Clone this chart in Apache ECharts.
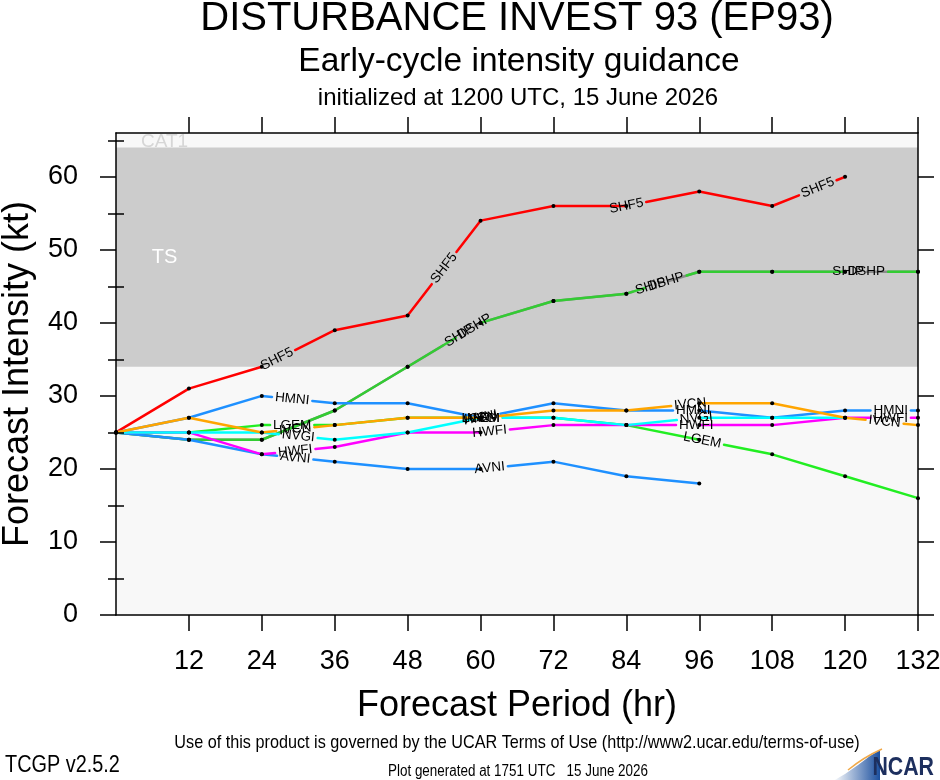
<!DOCTYPE html>
<html><head><meta charset="utf-8">
<script src="https://cdn.jsdelivr.net/npm/echarts@6/dist/echarts.min.js"></script>
<style>html,body{margin:0;padding:0;background:#fff}#c{width:940px;height:780px}</style>
</head><body><div id="c"></div>
<script>
// ---- data ----
const hours = [0, 12, 24, 36, 48, 60, 72, 84, 96, 108, 120, 132];
const SHF5 = [25, 31, 34, 39, 41, 54, 56, 56, 58, 56, 60, null];
const SHIP = [25, 24, 24, 28, 34, 40, 43, 44, 47, 47, 47, 47];
const DSHP = [25, 24, 24, 28, 34, 40, 43, 44, 47, 47, 47, 47];
const LGEM = [25, 25, 26, 26, 27, 27, 27, 26, 24, 22, 19, 16];
const HMNI = [25, 27, 30, 29, 29, 27, 29, 28, 28, 27, 28, 28];
const AVNI = [25, 24, 22, 21, 20, 20, 21, 19, 18, null, null, null];
const HWFI = [25, 25, 22, 23, 25, 25, 26, 26, 26, 26, 27, 27];
const NVGI = [25, 25, 25, 24, 25, 27, 27, 26, 27, 27, 27, null];
const IVCN = [25, 27, 25, 26, 27, 27, 28, 28, 29, 29, 27, 26];
const xTicks = [12, 24, 36, 48, 60, 72, 84, 96, 108, 120, 132];
const yMajor = [0, 10, 20, 30, 40, 50, 60];
const yMinor = [5, 15, 25, 35, 45, 55, 65];
const tsBand = [34, 64];

const FONT = '"Liberation Sans", Arial, Helvetica, sans-serif';
const LABEL_FONT = '13.5px "Liberation Sans", Arial, sans-serif';

// model styling and label anchor hours
const models = [
  { name: 'SHF5', vals: SHF5, color: '#ff0000', labels: [26.5, 54, 84, 115.5] },
  { name: 'SHIP', vals: SHIP, color: '#8a8a8a', labels: [56.5, 88, 120.5] },
  { name: 'DSHP', vals: DSHP, color: '#33cc33', labels: [59, 90.5, 123.5] },
  { name: 'LGEM', vals: LGEM, color: '#22ee22', labels: [29, 60, 96.5] },
  { name: 'HMNI', vals: HMNI, color: '#1e90ff', labels: [29, 60, 95, 127.5] },
  { name: 'AVNI', vals: AVNI, color: '#1e90ff', labels: [29.5, 61.5] },
  { name: 'HWFI', vals: HWFI, color: '#ff00ff', labels: [29.5, 61.5, 95.5, 127.5] },
  { name: 'NVGI', vals: NVGI, color: '#00ffff', labels: [30, 60.5, 95.5] },
  { name: 'IVCN', vals: IVCN, color: '#ffa500', labels: [29.5, 60, 94.5, 126.5] }
];

const mctx = document.createElement('canvas').getContext('2d');
mctx.font = LABEL_FONT;
function textW(s) { return mctx.measureText(s).width; }

function makeRender(m, pts) {
  return function (params, api) {
    const i = params.dataIndex;
    const A = api.coord(pts[i]);
    const children = [];
    if (i < pts.length - 1) {
      const B = api.coord(pts[i + 1]);
      const dx = B[0] - A[0], dy = B[1] - A[1];
      const L = Math.hypot(dx, dy);
      const h0 = pts[i][0], h1 = pts[i + 1][0];
      const labs = m.labels.filter(h => h >= h0 && h < h1);
      const hw = (textW(m.name) / 2 + 3) / L;
      const cuts = labs.map(h => { const t = (h - h0) / (h1 - h0); return [t - hw, t + hw]; })
        .sort((a, b) => a[0] - b[0]);
      let s = 0; const segs = [];
      cuts.forEach(c => { if (c[0] > s) segs.push([s, Math.min(c[0], 1)]); s = Math.max(s, c[1]); });
      if (s < 1) segs.push([s, 1]);
      segs.forEach(sg => children.push({
        type: 'line',
        shape: { x1: A[0] + dx * sg[0], y1: A[1] + dy * sg[0], x2: A[0] + dx * sg[1], y2: A[1] + dy * sg[1] },
        style: { stroke: m.color, lineWidth: 2.5, lineCap: 'round' }
      }));
      labs.forEach(h => {
        const t = (h - h0) / (h1 - h0);
        const v = pts[i][1] + t * (pts[i + 1][1] - pts[i][1]);
        const C = api.coord([h, v]);
        children.push({
          type: 'text', x: C[0], y: C[1], rotation: Math.atan2(-dy, dx), z2: 5,
          style: { text: m.name, font: LABEL_FONT, fill: '#000', align: 'center', verticalAlign: 'middle',
                   textAlign: 'center', textVerticalAlign: 'middle' }
        });
      });
    }
    children.push({ type: 'circle', shape: { cx: A[0], cy: A[1], r: 2 }, style: { fill: '#000' }, z2: 4 });
    return { type: 'group', children };
  };
}

const series = [];
series.push({
  type: 'custom', name: 'bands', clip: true, silent: true,
  data: [[0, tsBand[0]]],
  encode: { x: 0, y: 1 },
  renderItem: function (params, api) {
    const p1 = api.coord([0, tsBand[1]]);
    const p2 = api.coord([132, tsBand[0]]);
    const ts = api.coord([8, 49]);
    const cat = api.coord([8, tsBand[1]]);
    return { type: 'group', children: [
      { type: 'text', x: cat[0], y: cat[1] + 4, style: { text: 'CAT1', font: '19px ' + FONT, fill: '#d6d6d6',
          align: 'center', verticalAlign: 'bottom', textAlign: 'center', textVerticalAlign: 'bottom' } },
      { type: 'rect', shape: { x: p1[0], y: p1[1], width: p2[0] - p1[0], height: p2[1] - p1[1] }, style: { fill: '#cccccc' } },
      { type: 'text', x: ts[0], y: ts[1], style: { text: 'TS', font: '20px ' + FONT, fill: '#ffffff',
          align: 'center', verticalAlign: 'middle', textAlign: 'center', textVerticalAlign: 'middle' } }
    ] };
  }
});
models.forEach(m => {
  const pts = [];
  hours.forEach((h, i) => { if (m.vals[i] !== null) pts.push([h, m.vals[i]]); });
  series.push({ type: 'custom', name: m.name, data: pts, encode: { x: 0, y: 1 }, renderItem: makeRender(m, pts) });
});

function txt(x, y, text, font, align, sx) {
  return { type: 'text', x: x, y: y, scaleX: sx || 1,
    style: { text: text, font: font, fill: '#000', align: align, verticalAlign: 'middle',
             textAlign: align, textVerticalAlign: 'middle' } };
}

const lineSt = { color: '#000', width: 1.5 };
const chart = echarts.init(document.getElementById('c'));
chart.setOption({
  animation: false,
  backgroundColor: '#ffffff',
  grid: { left: 116, right: 22, top: 133, bottom: 165, show: true, backgroundColor: '#f8f8f8', borderWidth: 0,
          containLabel: false, outerBoundsMode: 'none' },
  xAxis: [
    { type: 'value', min: 0, max: 132, interval: 12, position: 'bottom', z: 10,
      axisLine: { show: true, onZero: false, lineStyle: lineSt },
      axisTick: { show: true, inside: false, length: 16, customValues: xTicks, lineStyle: lineSt },
      axisLabel: { customValues: xTicks, color: '#000', fontSize: 27, fontFamily: FONT, margin: 33,
                   formatter: v => (v === 0 ? '' : String(v)) },
      splitLine: { show: false },
      name: 'Forecast Period (hr)', nameLocation: 'middle', nameGap: 73,
      nameTextStyle: { fontSize: 36, color: '#000', fontFamily: FONT } },
    { type: 'value', min: 0, max: 132, interval: 12, position: 'top', z: 10,
      axisLine: { show: true, onZero: false, lineStyle: lineSt },
      axisTick: { show: true, inside: false, length: 16, customValues: xTicks, lineStyle: lineSt },
      axisLabel: { show: false }, splitLine: { show: false } }
  ],
  yAxis: [
    { type: 'value', min: 0, max: 66, interval: 10, position: 'left', z: 10,
      axisLine: { show: true, onZero: false, lineStyle: lineSt },
      axisTick: { show: true, inside: false, length: 16, customValues: yMajor, lineStyle: lineSt },
      axisLabel: { customValues: yMajor, color: '#000', fontSize: 27, fontFamily: FONT, margin: 38,
                   formatter: v => (v % 10 === 0 ? String(v) : '') },
      splitLine: { show: false },
      name: 'Forecast Intensity (kt)', nameLocation: 'middle', nameGap: 80, nameRotate: 90,
      nameTextStyle: { fontSize: 36, color: '#000', fontFamily: FONT } },
    { type: 'value', min: 0, max: 66, interval: 10, position: 'left', z: 10,
      axisLine: { show: false },
      axisTick: { show: true, inside: false, length: 8, customValues: yMinor, lineStyle: lineSt },
      axisLabel: { show: false }, splitLine: { show: false } },
    { type: 'value', min: 0, max: 66, interval: 10, position: 'right', z: 10,
      axisLine: { show: true, onZero: false, lineStyle: lineSt },
      axisTick: { show: true, inside: false, length: 16, customValues: yMajor, lineStyle: lineSt },
      axisLabel: { show: false }, splitLine: { show: false } },
    { type: 'value', min: 0, max: 66, interval: 10, position: 'right', z: 10,
      axisLine: { show: false },
      axisTick: { show: true, inside: false, length: 8, customValues: yMinor, lineStyle: lineSt },
      axisLabel: { show: false }, splitLine: { show: false } }
  ],
  graphic: [
    txt(517, 19, 'DISTURBANCE INVEST 93 (EP93)', '40px ' + FONT, 'center'),
    txt(519, 62, 'Early-cycle intensity guidance', '33.5px ' + FONT, 'center'),
    txt(518, 98, 'initialized at 1200 UTC, 15 June 2026', '24px ' + FONT, 'center'),
    txt(517, 743, 'Use of this product is governed by the UCAR Terms of Use (http://www2.ucar.edu/terms-of-use)', '19px ' + FONT, 'center', 0.854),
    txt(5, 766, 'TCGP v2.5.2', '23px ' + FONT, 'left', 0.864),
    txt(518, 772, 'Plot generated at 1751 UTC   15 June 2026', '16px ' + FONT, 'center', 0.84),
    { type: 'polygon', shape: { points: [[833, 781], [845, 774], [858, 765], [870, 756], [880, 750], [880, 781]] },
      style: { fill: new echarts.graphic.LinearGradient(0, 0, 1, 0, [{ offset: 0, color: '#ffffff' }, { offset: 1, color: '#1b4f9e' }]) } },
    { type: 'bezierCurve', shape: { x1: 848, y1: 770, cpx1: 864, cpy1: 757, x2: 882, y2: 749 },
      style: { fill: null, stroke: '#f0a848', lineWidth: 1.5 } },
    { type: 'text', x: 934, y: 781, scaleX: 0.82,
      style: { text: 'NCAR', font: 'bold 26px ' + FONT, fill: '#1d2f5e',
        align: 'right', verticalAlign: 'bottom', textAlign: 'right', textVerticalAlign: 'bottom' } }
  ],
  series: series
});
</script></body></html>
